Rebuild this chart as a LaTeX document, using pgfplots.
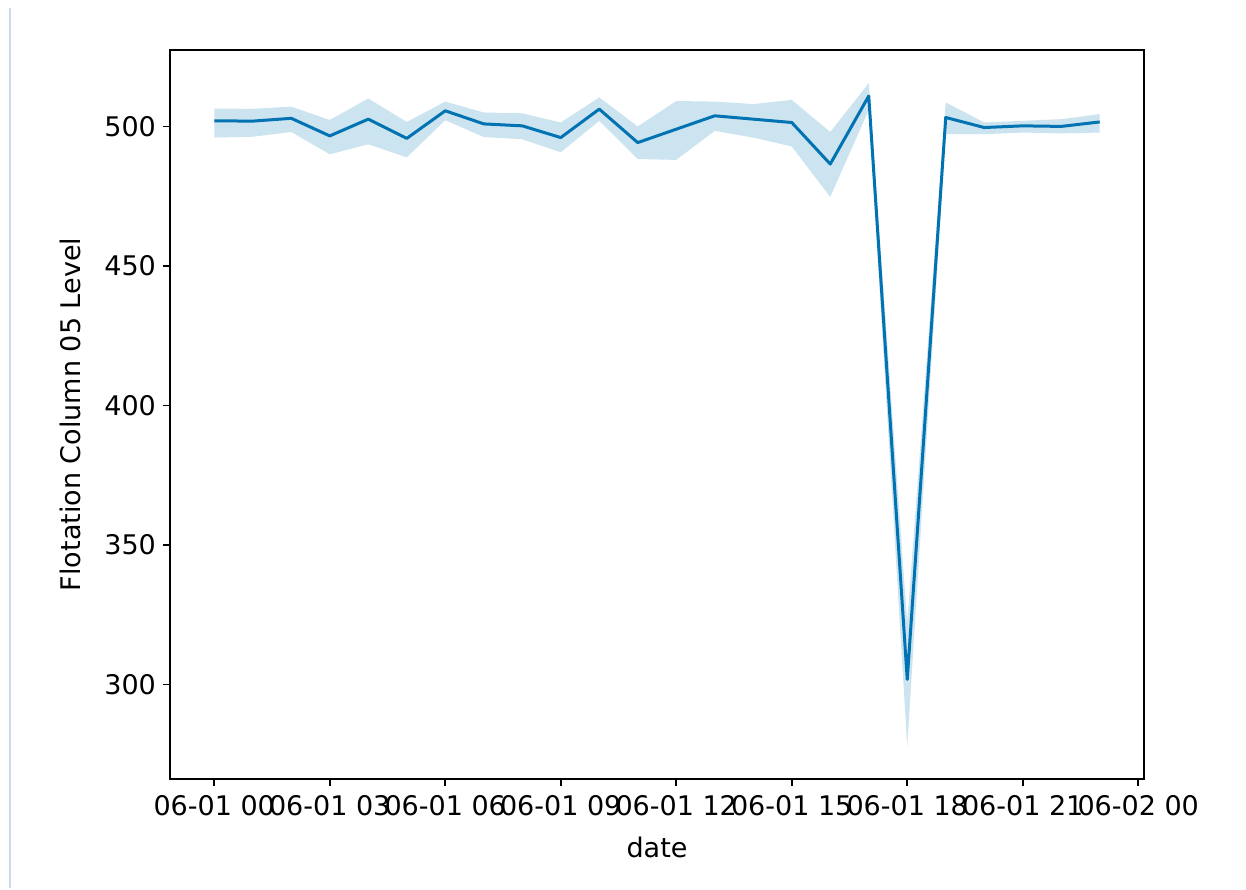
\documentclass[border=0pt]{standalone}
\usepackage{pgfplots}
\usepackage{pgfplotstable}
\pgfplotsset{compat=1.18}
\usepgfplotslibrary{fillbetween}
\usepackage{fontspec}
\setmainfont{DejaVu Sans}

\definecolor{sbblue}{HTML}{0173B2}
\definecolor{edgeline}{RGB}{205,218,232}

% hour, mean level, lower and upper bound of the band
\pgfplotstableread{
h  mean   lo     hi
0  502.1  496.1  506.5
1  502.0  496.4  506.4
2  503.0  498.1  507.2
3  496.7  490.1  502.4
4  502.7  493.7  510.1
5  495.8  489.0  501.7
6  505.7  502.3  509.0
7  501.0  496.3  505.1
8  500.3  495.5  504.8
9  496.1  490.8  501.5
10 506.3  502.1  510.5
11 494.3  488.4  500.1
12 499.1  488.1  509.2
13 503.9  498.5  509.0
14 502.7  496.1  508.1
15 501.5  492.9  509.6
16 486.6  474.8  498.1
17 511.0  506.0  515.6
18 301.8  278.0  322.0
19 503.3  497.3  508.7
20 499.7  497.3  501.5
21 500.3  497.9  502.1
22 500.1  497.6  502.7
23 501.7  497.9  504.5
}\levels

\begin{document}
\begin{tikzpicture}
\path (-85pt,-54.5pt) rectangle (538pt,389.5pt);
\draw[edgeline, line width=1pt] (-80pt,-54.5pt) -- (-80pt,385.5pt);
\begin{axis}[
    at={(0,0)}, anchor=south west,
    scale only axis,
    width=487pt, height=364.5pt,
    xmin=-1.15, xmax=24.15,
    ymin=266.1, ymax=527.5,
    xtick={0,3,6,9,12,15,18,21,24},
    xticklabels={06-01 00,06-01 03,06-01 06,06-01 09,06-01 12,06-01 15,06-01 18,06-01 21,06-02 00},
    ytick={300,350,400,450,500},
    tick align=outside,
    major tick length=3.5pt,
    xtick pos=bottom, ytick pos=left,
    axis line style={line width=0.8pt},
    every tick/.style={black, line width=0.8pt},
    /pgf/number format/assume math mode=true,
    /pgf/number format/1000 sep={},
    tick label style={font=\fontsize{13.5}{15}\selectfont},
    xticklabel style={yshift=-1pt},
    label style={font=\fontsize{13.5}{15}\selectfont},
    xlabel={date},
    ylabel={Flotation Column 05 Level},
    xlabel shift=4pt,
    ylabel shift=5pt,
]
\addplot[name path=up, draw=none, forget plot] table[x=h, y=hi] {\levels};
\addplot[name path=lo, draw=none, forget plot] table[x=h, y=lo] {\levels};
\addplot[sbblue, fill opacity=0.2, draw=none] fill between[of=up and lo];
\addplot[sbblue, line width=1.5pt, line join=round] table[x=h, y=mean] {\levels};
\end{axis}
\end{tikzpicture}
\end{document}
